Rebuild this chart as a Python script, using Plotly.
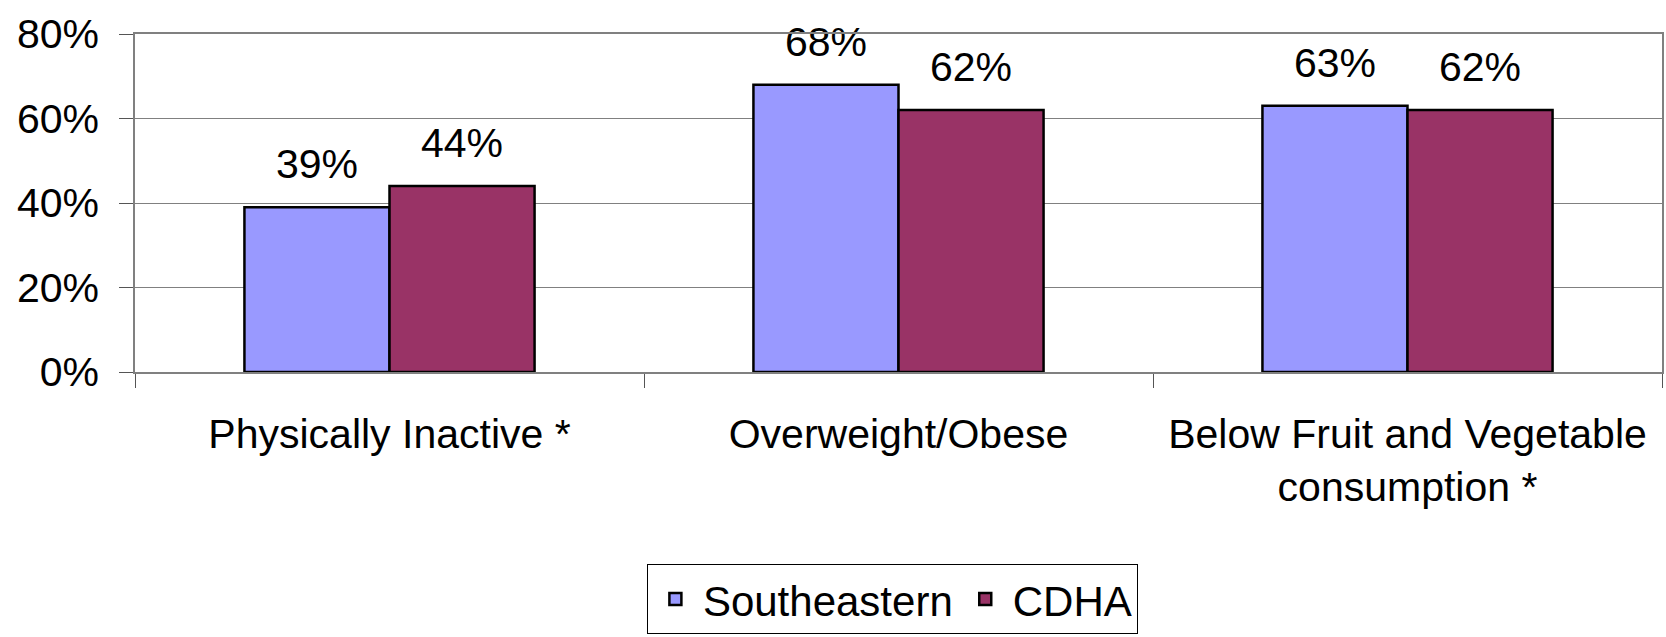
import plotly.graph_objects as go

categories = ["Physically Inactive *", "Overweight/Obese",
              "Below Fruit and Vegetable<br>consumption *"]
southeastern = [39, 68, 63]
cdha = [44, 62, 62]
y_ticks = [0, 20, 40, 60, 80]

FONT = "Liberation Sans, Arial, sans-serif"
GAP = 0.43

fig = go.Figure()
series = [("Southeastern", southeastern, "#9999FF", "a"),
          ("CDHA", cdha, "#993366", "b")]
for name, vals, color, grp in series:
    fig.add_trace(go.Bar(
        name=name, x=categories, y=vals, offsetgroup=grp,
        marker=dict(color=color, line=dict(color="black", width=2.5)),
    ))
# value labels above each bar, grouped the same way as the bars
for name, vals, color, grp in series:
    fig.add_trace(go.Scatter(
        x=categories, y=vals, offsetgroup=grp, mode="markers+text",
        text=[f"{v}%" for v in vals], textposition="top center",
        textfont=dict(size=41, color="black", family=FONT),
        marker=dict(size=28, opacity=0), showlegend=False,
        hoverinfo="skip", cliponaxis=False,
    ))

fig.update_layout(
    width=1666, height=637,
    margin=dict(l=135, r=2, t=34, b=264),
    paper_bgcolor="white", plot_bgcolor="white",
    barmode="group", bargap=GAP, bargroupgap=0,
    scattermode="group", scattergap=GAP,
    font=dict(family=FONT, size=41, color="black"),
    legend=dict(
        orientation="h", x=0.496, xanchor="center", y=-0.569, yanchor="top",
        bordercolor="black", borderwidth=1, font=dict(size=42),
        itemwidth=45, itemclick=False,
    ),
    showlegend=True,
)
fig.update_yaxes(
    range=[0, 80], tickvals=y_ticks, ticktext=[f"{v}%" for v in y_ticks],
    showgrid=True, gridcolor="#808080", gridwidth=1,
    showline=True, linecolor="#808080", linewidth=1.5, mirror=True,
    ticks="outside", ticklen=14, tickcolor="#555555",
    ticklabelstandoff=12, zeroline=False,
)
fig.update_xaxes(
    showgrid=False, showline=True, linecolor="#808080", linewidth=1.5,
    mirror=True, ticks="outside", tickson="boundaries", ticklen=14,
    tickcolor="#555555", ticklabelstandoff=25,
)

fig.write_html("out.html")
